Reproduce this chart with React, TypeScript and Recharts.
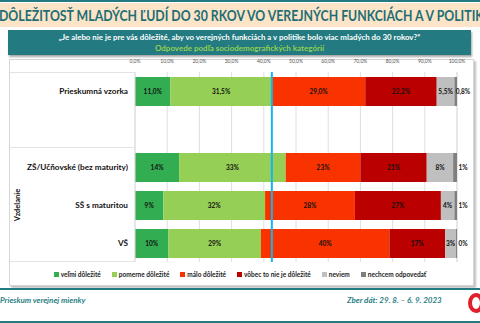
import React from "react";
import { BarChart, Bar, XAxis, YAxis, CartesianGrid, ReferenceLine, LabelList } from "recharts";

const categories = ["Prieskumná vzorka", "", "ZŠ/Učňovské (bez maturity)", "SŠ s maturitou", "VŠ"];
const velmi = [11.0, null, 13.7, 8.8, 10.4];
const pomerne = [31.5, null, 33.1, 31.6, 28.7];
const malo = [29.0, null, 23.2, 27.9, 39.9];
const vobec = [22.2, null, 20.6, 26.7, 17.3];
const neviem = [5.5, null, 8.2, 4.2, 3.4];
const nechcem = [0.8, null, 1.2, 0.8, 0.3];
const labelDecimals = [1, 0, 0, 0, 0];
const xTicks = [0, 10, 20, 30, 40, 50, 60, 70, 80, 90, 100];
const averageLine = 42.5;

const seriesNames = ["veľmi dôležité", "pomerne dôležité", "málo dôležité", "vôbec to nie je dôležité", "neviem", "nechcem odpovedať"];
const seriesValues = [velmi, pomerne, malo, vobec, neviem, nechcem];
const seriesColors = ["#32ad52", "#95cf55", "#f83300", "#bb0000", "#bfbfbf", "#7f7f7f"];

const fmt = (v: number | null, d: number) =>
  v == null ? "" : v.toFixed(d).replace(".", ",") + "%";

const data = categories.map((cat, i) => {
  const row: any = { cat };
  seriesValues.forEach((arr, s) => {
    row["s" + s] = arr[i];
    row["l" + s] = fmt(arr[i], labelDecimals[i]);
  });
  return row;
});

const FONT = "Lato, 'Open Sans', sans-serif";
const TEAL = "#237a80";

const CatTick = (props: any) => {
  const { x, y, payload } = props;
  return (
    <text x={x + 1} y={y} dy={3} textAnchor="end" fontSize={8.2} fontWeight={700} fill="#111" fontFamily={FONT}>
      {payload.value}
    </text>
  );
};

const PctTick = (props: any) => {
  const { x, y, payload } = props;
  return (
    <text x={x} y={y} dy={-1} textAnchor="middle" fontSize={5} fill="#555" fontFamily={FONT}>
      {payload.value.toFixed(1).replace(".", ",") + "%"}
    </text>
  );
};

const OutsideLabel = (props: any) => {
  const vb = props.viewBox || props;
  const { x, y, width, height } = vb;
  if (props.value === "" || props.value == null) return null;
  return (
    <text x={x + width + 6} y={y + height / 2} dy={2.5} textAnchor="middle" fontSize={6.5} fontWeight={700} fill="#111" fontFamily={FONT}>
      {props.value}
    </text>
  );
};

export default function App() {
  return (
    <div style={{ position: "absolute", left: 0, top: 0, width: 480, height: 323, overflow: "hidden", background: "#fff", fontFamily: FONT }}>
      {/* top band */}
      <div style={{ position: "absolute", left: 0, top: 0, width: 480, height: 2, background: TEAL }} />
      <div style={{ position: "absolute", left: 0, top: 3, width: 480, height: 24, background: "#fbe4c8", overflow: "hidden" }}>
        <div style={{ position: "absolute", left: -1, top: 3, whiteSpace: "nowrap", fontSize: 15, fontWeight: 700, color: "#1f6e74", lineHeight: "18px", transform: "scaleX(0.82)", transformOrigin: "0 0" }}>
          DÔLEŽITOSŤ MLADÝCH ĽUDÍ DO 30 RKOV VO VEREJNÝCH FUNKCIÁCH A V POLITIKE
        </div>
      </div>
      {/* question box */}
      <div style={{ position: "absolute", left: 8, top: 30, width: 463, height: 25, background: TEAL, boxShadow: "1px 2px 2px rgba(0,0,0,0.35)" }} />
      <div style={{ position: "absolute", left: 8, top: 32, width: 463, textAlign: "center", fontSize: 7.9, fontWeight: 700, color: "#fff", lineHeight: "10px" }}>
        „Je alebo nie je pre vás dôležité, aby vo verejných funkciách a v politike bolo viac mladých do 30 rokov?“
      </div>
      <div style={{ position: "absolute", left: 8, top: 43, width: 463, textAlign: "center", fontSize: 8, fontWeight: 700, color: "#92d050", lineHeight: "10px" }}>
        Odpovede podľa sociodemografických kategórií
      </div>
      {/* panel */}
      <div style={{ position: "absolute", left: 9, top: 59, width: 463, height: 225, background: "#fff", border: "1px solid #d6d6d6", boxShadow: "2px 2px 2px rgba(0,0,0,0.25)" }} />
      {/* label area lines */}
      <div style={{ position: "absolute", left: 10, top: 72, width: 125, height: 1, background: "#e3e3e3" }} />
      <div style={{ position: "absolute", left: 10, top: 147, width: 125, height: 1, background: "#e3e3e3" }} />
      <div style={{ position: "absolute", left: 10, top: 261, width: 125, height: 1, background: "#e3e3e3" }} />
      <div style={{ position: "absolute", left: 17, top: 205, transform: "translate(-50%, -50%) rotate(-90deg)", fontSize: 7.5, fontWeight: 700, color: "#111", whiteSpace: "nowrap" }}>
        Vzdelanie
      </div>

      <div style={{ position: "absolute", left: 0, top: 0 }}>
        <BarChart width={480} height={323} data={data} layout="vertical" margin={{ top: 60, right: 23, bottom: 61, left: 10 }} barSize={29}>
          <CartesianGrid horizontal={false} stroke="#dedede" />
          <XAxis type="number" orientation="top" domain={[0, 100]} ticks={xTicks} height={12} axisLine={false} tickLine={false} tick={<PctTick />} interval={0} />
          <YAxis type="category" dataKey="cat" width={125} axisLine={{ stroke: "#dedede" }} tickLine={false} tick={<CatTick />} interval={0} />
          {seriesNames.map((name, s) => (
            <Bar key={name} dataKey={"s" + s} name={name} stackId="a" fill={seriesColors[s]} isAnimationActive={false}>
              {s < 5 ? (
                <LabelList dataKey={"l" + s} position="center" fontSize={6.5} fontWeight={700} fill="#111" fontFamily={FONT} />
              ) : (
                <LabelList dataKey={"l" + s} content={<OutsideLabel />} />
              )}
            </Bar>
          ))}
          <ReferenceLine x={averageLine} stroke="#16b4ef" strokeWidth={2} />
        </BarChart>
      </div>

      {/* legend */}
      <div style={{ position: "absolute", left: 0, top: 271, width: 480, display: "flex", justifyContent: "center", gap: 11, fontSize: 6.5, fontWeight: 700, color: "#222", whiteSpace: "nowrap" }}>
        {seriesNames.map((n, s) => (
          <div key={n} style={{ display: "flex", alignItems: "center" }}>
            <span style={{ display: "inline-block", width: 5, height: 5, background: seriesColors[s], marginRight: 2 }} />
            {n}
          </div>
        ))}
      </div>

      {/* footer */}
      <div style={{ position: "absolute", left: 0, top: 288, width: 480, height: 2, background: TEAL }} />
      <div style={{ position: "absolute", left: 0, top: 295, fontSize: 8, fontWeight: 700, fontStyle: "italic", color: "#2a7f84", whiteSpace: "nowrap" }}>
        Prieskum verejnej mienky
      </div>
      <div style={{ position: "absolute", left: 347, top: 295, fontSize: 8, fontWeight: 700, fontStyle: "italic", color: "#2a7f84", whiteSpace: "nowrap" }}>
        Zber dát: 29. 8. – 6. 9. 2023
      </div>
      <div style={{ position: "absolute", left: 468, top: 293, width: 16, height: 20, borderRadius: "50%", border: "4px solid #e2202c", boxSizing: "border-box" }} />
      <div style={{ position: "absolute", left: 0, top: 321, width: 480, height: 2, background: TEAL }} />
    </div>
  );
}
